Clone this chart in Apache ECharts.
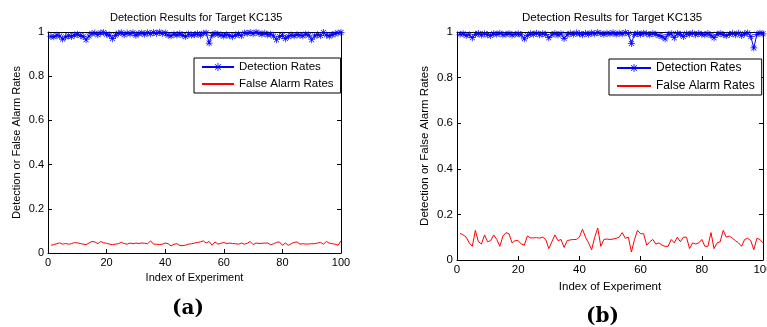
<!DOCTYPE html>
<html>
<head>
<meta charset="utf-8">
<script src="https://cdn.jsdelivr.net/npm/echarts@6/dist/echarts.min.js"></script>
<style>
  html, body { margin: 0; padding: 0; background: #fff; }
  #chart { width: 767px; height: 327px; }
</style>
</head>
<body>
<div id="chart"></div>
<script>
// panel (a)
var detA = [
  0.980, 0.978, 0.985, 0.982, 0.968, 0.978, 0.983, 0.980, 0.986, 0.990,
  0.984, 0.980, 0.965, 0.982, 0.993, 0.995, 0.988, 0.996, 0.998, 0.990,
  0.986, 0.970, 0.985, 0.994, 0.997, 0.988, 0.995, 0.992, 0.997, 0.985,
  0.993, 0.996, 0.990, 0.997, 0.992, 0.998, 0.994, 0.999, 0.993, 0.996,
  0.985, 0.983, 0.990, 0.986, 0.992, 0.985, 0.980, 0.991, 0.986, 0.988,
  0.992, 0.985, 0.994, 0.996, 0.950, 0.985, 0.993, 0.990, 0.986, 0.982,
  0.988, 0.983, 0.979, 0.986, 0.990, 0.983, 0.996, 0.994, 0.998, 0.992,
  0.999, 0.994, 0.990, 0.994, 0.988, 0.990, 0.982, 0.965, 0.980, 0.985,
  0.970, 0.980, 0.986, 0.983, 0.988, 0.985, 0.983, 0.990, 0.986, 0.965,
  0.982, 0.988, 0.984, 0.998, 0.986, 0.982, 0.988, 0.992, 0.996, 0.998
]
var falseA = [
  0.035, 0.038, 0.042, 0.046, 0.040, 0.043, 0.040, 0.042, 0.047, 0.046,
  0.043, 0.040, 0.038, 0.045, 0.052, 0.050, 0.042, 0.052, 0.046, 0.044,
  0.040, 0.038, 0.040, 0.042, 0.048, 0.043, 0.040, 0.045, 0.042, 0.045,
  0.043, 0.045, 0.044, 0.042, 0.055, 0.040, 0.040, 0.038, 0.040, 0.045,
  0.042, 0.032, 0.040, 0.042, 0.034, 0.033, 0.036, 0.040, 0.042, 0.045,
  0.048, 0.050, 0.055, 0.045, 0.052, 0.035, 0.050, 0.040, 0.044, 0.048,
  0.042, 0.045, 0.043, 0.042, 0.040, 0.045, 0.040, 0.044, 0.052, 0.038,
  0.045, 0.043, 0.044, 0.045, 0.045, 0.037, 0.042, 0.048, 0.050, 0.035,
  0.045, 0.035, 0.042, 0.048, 0.050, 0.040, 0.042, 0.040, 0.041, 0.042,
  0.042, 0.045, 0.048, 0.040, 0.052, 0.045, 0.042, 0.040, 0.035, 0.055
]

// panel (b)
var detB = [
  0.990, 0.992, 0.985, 0.988, 0.975, 0.990, 0.993, 0.987, 0.992, 0.988,
  0.985, 0.992, 0.990, 0.995, 0.988, 0.990, 0.993, 0.987, 0.990, 0.992,
  0.988, 0.970, 0.985, 0.992, 0.990, 0.995, 0.988, 0.992, 0.990, 0.975,
  0.988, 0.993, 0.987, 0.992, 0.972, 0.988, 0.994, 0.990, 0.996, 0.992,
  0.988, 0.994, 0.990, 0.996, 0.992, 0.998, 0.993, 0.990, 0.995, 0.992,
  0.997, 0.990, 0.995, 0.992, 0.998, 0.993, 0.950, 0.990, 0.993, 0.990,
  0.995, 0.992, 0.988, 0.993, 0.990, 0.985, 0.980, 0.970, 0.990, 0.992,
  0.975, 0.993, 0.990, 0.980, 0.992, 0.990, 0.995, 0.988, 0.993, 0.990,
  0.988, 0.993, 0.985, 0.975, 0.990, 0.993, 0.988, 0.985, 0.990, 0.994,
  0.988, 0.995, 0.985, 0.992, 0.996, 0.980, 0.930, 0.990, 0.996, 0.992
]
var falseB = [
  0.117, 0.110, 0.100, 0.075, 0.060, 0.130, 0.080, 0.070, 0.110, 0.080,
  0.085, 0.110, 0.090, 0.060, 0.105, 0.120, 0.115, 0.075, 0.085, 0.085,
  0.070, 0.065, 0.105, 0.097, 0.097, 0.098, 0.096, 0.100, 0.090, 0.050,
  0.080, 0.110, 0.085, 0.090, 0.055, 0.085, 0.088, 0.090, 0.090, 0.100,
  0.135, 0.100, 0.075, 0.045, 0.100, 0.140, 0.060, 0.090, 0.092, 0.090,
  0.092, 0.095, 0.100, 0.120, 0.095, 0.100, 0.035, 0.090, 0.130, 0.115,
  0.115, 0.065, 0.080, 0.090, 0.070, 0.075, 0.065, 0.060, 0.060, 0.090,
  0.075, 0.100, 0.080, 0.100, 0.100, 0.050, 0.075, 0.070, 0.075, 0.090,
  0.060, 0.060, 0.120, 0.050, 0.075, 0.080, 0.130, 0.100, 0.105, 0.095,
  0.085, 0.075, 0.060, 0.090, 0.095, 0.085, 0.045, 0.095, 0.090, 0.075
]

var titleText = "Detection Results for Target KC135"
var xName = "Index of Experiment"
var yName = "Detection or False Alarm Rates"
var seriesNames = ["Detection Rates", "False Alarm Rates"]

var FONT = "'Liberation Sans', Arial, Helvetica, sans-serif"
var SERIF = "bold 20px 'DejaVu Serif', 'Liberation Serif', serif"
// matlab '*' marker
var asterisk = "path://M4.5,0L5.5,0L5.5,10L4.5,10Z M0,4.5L10,4.5L10,5.5L0,5.5Z " +
  "M1.1,1.8L1.8,1.1L8.9,8.2L8.2,8.9Z M8.2,1.1L8.9,1.8L1.8,8.9L1.1,8.2Z"

// experiment index starts at 1
function toPairs(values) {
  var out = []
  for (var i = 0; i < values.length; i++) out.push([i + 1, values[i]])
  return out
}

function yLabel(v) {
  if (v === 0) return "0"
  if (v === 1) return "1"
  return v.toFixed(1)
}

function makeXAxes(gi, fs, gap) {
  var base = {
    gridIndex: gi, type: "value", min: 0, max: 100, interval: 20,
    axisLine: { show: true, onZero: false, lineStyle: { color: "#000", width: 1 } },
    axisTick: { show: true, inside: true, length: 4, lineStyle: { color: "#000" } },
    splitLine: { show: false }
  }
  var bottom = Object.assign({}, base, {
    position: "bottom",
    name: xName, nameLocation: "middle", nameGap: gap,
    nameTextStyle: { color: "#000", fontFamily: FONT, fontSize: fs },
    axisLabel: { color: "#000", fontFamily: FONT, fontSize: fs, margin: 4 }
  })
  var top = Object.assign({}, base, { position: "top", axisLabel: { show: false } })
  return [bottom, top]
}

function makeYAxes(gi, fs) {
  var base = {
    gridIndex: gi, type: "value", min: 0, max: 1, interval: 0.2,
    axisLine: { show: true, onZero: false, lineStyle: { color: "#000", width: 1 } },
    axisTick: { show: true, inside: true, length: 4, lineStyle: { color: "#000" } },
    splitLine: { show: false }
  }
  var left = Object.assign({}, base, {
    position: "left",
    name: yName, nameLocation: "middle", nameGap: 26,
    nameTextStyle: { color: "#000", fontFamily: FONT, fontSize: fs },
    axisLabel: { color: "#000", fontFamily: FONT, fontSize: fs, margin: 4, formatter: yLabel }
  })
  var right = Object.assign({}, base, { position: "right", axisLabel: { show: false } })
  return [left, right]
}

function makeSeries(axisIdx, det, fa) {
  return [
    {
      name: seriesNames[0], type: "line", xAxisIndex: axisIdx, yAxisIndex: axisIdx,
      data: toPairs(det), clip: false,
      symbol: asterisk, symbolSize: 7, showSymbol: true,
      itemStyle: { color: "#0000ff" },
      lineStyle: { color: "#0000ff", width: 1 }
    },
    {
      name: seriesNames[1], type: "line", xAxisIndex: axisIdx, yAxisIndex: axisIdx,
      data: toPairs(fa), symbol: "none",
      itemStyle: { color: "#ff0000" },
      lineStyle: { color: "#ff0000", width: 1 }
    }
  ]
}

function makeLegend(left, top, fs, iw, gap) {
  return {
    data: [
      { name: seriesNames[0] },
      { name: seriesNames[1], itemStyle: { opacity: 0 } }
    ],
    orient: "vertical", left: left, top: top,
    itemWidth: iw, itemHeight: 10, itemGap: gap,
    padding: [3, 7, 3, 7],
    borderColor: "#000", borderWidth: 1, backgroundColor: "#fff",
    textStyle: { color: "#000", fontFamily: FONT, fontSize: fs },
    selectedMode: false
  }
}

var chart = echarts.init(document.getElementById("chart"))

var option = {
  animation: false,
  backgroundColor: "#fff",
  grid: [
    { left: 48, top: 32, width: 293, height: 221, outerBoundsMode: "none" },
    { left: 457, top: 32, width: 306, height: 228, outerBoundsMode: "none" }
  ],
  xAxis: makeXAxes(0, 11, 17).concat(makeXAxes(1, 11.5, 18)),
  yAxis: makeYAxes(0, 11).concat(makeYAxes(1, 11.5)),
  legend: [
    makeLegend(194, 58, 11.5, 32, 5),
    makeLegend(609, 59, 12, 34, 6)
  ],
  series: makeSeries(0, detA, falseA).concat(makeSeries(2, detB, falseB)),
  graphic: [
    { type: "text", left: 110, top: 12,
      style: { text: titleText, fill: "#000", font: "11px " + FONT } },
    { type: "text", left: 522, top: 12,
      style: { text: titleText, fill: "#000", font: "11.5px " + FONT } },
    { type: "text", left: 172, top: 299,
      style: { text: "(a)", fill: "#000", font: SERIF } },
    { type: "text", left: 586, top: 307,
      style: { text: "(b)", fill: "#000", font: SERIF } }
  ]
}

chart.setOption(option)
</script>
</body>
</html>
